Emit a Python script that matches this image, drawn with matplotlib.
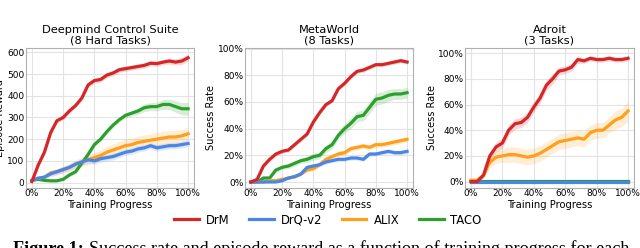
import numpy as np
import matplotlib
matplotlib.use("Agg")
import matplotlib.pyplot as plt

# training progress (%), one point every 4%
progress = list(range(0, 101, 4))

# Deepmind Control Suite (episode reward)
dmc_drm = [5, 80, 140, 230, 285, 300, 330, 355, 390, 450, 470, 475, 495, 505, 520, 525,
           530, 535, 540, 550, 548, 555, 560, 555, 560, 575]
dmc_drq = [10, 20, 25, 40, 50, 60, 70, 85, 95, 105, 100, 110, 115, 120, 130, 140,
           145, 155, 160, 170, 160, 165, 170, 170, 175, 180]
dmc_alix = [10, 20, 25, 45, 50, 60, 70, 85, 95, 105, 115, 125, 140, 150, 160, 170,
            175, 185, 190, 195, 200, 205, 210, 210, 215, 225]
dmc_taco = [10, 15, 10, 8, 8, 15, 35, 50, 90, 130, 175, 200, 235, 265, 290, 310,
            320, 330, 345, 350, 350, 360, 360, 350, 340, 340]
dmc_drm_sd = [3, 8, 10, 12, 10, 10, 10, 10, 12, 12, 12, 12, 12, 12, 12, 12,
              12, 12, 12, 12, 12, 12, 14, 14, 16, 16]
dmc_drq_sd = [5, 8, 10, 12, 14, 14, 15, 15, 15, 15, 15, 15, 15, 15, 15, 15,
              15, 15, 15, 15, 15, 15, 15, 15, 15, 15]
dmc_alix_sd = [5, 8, 10, 12, 14, 16, 18, 20, 22, 24, 25, 26, 28, 28, 30, 30,
               30, 30, 30, 30, 30, 30, 30, 30, 30, 30]
dmc_taco_sd = [3, 4, 4, 4, 4, 5, 8, 10, 10, 10, 10, 10, 12, 12, 12, 12,
               12, 15, 18, 18, 20, 22, 24, 26, 28, 30]

# MetaWorld (success rate, %)
mw_drm = [0, 2, 12, 17, 21, 23, 24, 28, 32, 36, 45, 52, 58, 61, 70, 74,
          79, 83, 84, 86, 88, 88, 89, 90, 91, 90]
mw_drq = [0, 0, 0, 0, 0, 1, 3, 4, 6, 11, 12, 13, 15, 16, 17, 17,
          18, 18, 17, 21, 21, 22, 23, 22, 22, 23]
mw_alix = [0, 0, 0, 1, 1, 2, 3, 4, 6, 9, 10, 13, 17, 19, 21, 22,
           25, 26, 27, 26, 28, 28, 29, 30, 31, 32]
mw_taco = [0, 0, 3, 3, 9, 11, 12, 14, 16, 17, 19, 20, 25, 28, 35, 40,
           44, 49, 50, 56, 62, 63, 65, 66, 66, 67]
mw_drm_sd = [0.5, 1, 1.5, 1.5, 1.5, 1.5, 1.5, 1.5, 1.5, 1.5, 1.5, 1.5, 1.5, 1.5, 1.5, 1.5,
             1.5, 1.5, 1.5, 1.5, 1.5, 1.5, 1.5, 1.5, 1.5, 1.5]
mw_drq_sd = [0.5, 0.5, 0.5, 0.5, 0.5, 1, 1, 1, 1.5, 1.5, 1.5, 1.5, 1.5, 1.5, 1.5, 1.5,
             1.5, 1.5, 1.5, 1.5, 1.5, 1.5, 1.5, 1.5, 1.5, 1.5]
mw_alix_sd = [0.5, 0.5, 0.5, 0.5, 0.5, 1, 1, 1, 1, 1.5, 1.5, 1.5, 1.5, 2, 2, 2,
              2, 2, 2, 2, 2, 2, 2, 2, 2, 2]
mw_taco_sd = [0.5, 0.5, 1, 1, 1.5, 1.5, 2, 2, 2, 2.5, 2.5, 2.5, 3, 3, 3, 3.5,
              4, 4, 4, 4.5, 4.5, 4.5, 4.5, 4, 4, 4]

# Adroit (success rate, %)
ad_drm = [0, 0, 5, 20, 27, 30, 40, 45, 46, 50, 58, 65, 75, 80, 86, 87,
          89, 95, 94, 96, 95, 95, 96, 95, 95, 96]
ad_drq = [-0.5] * 26
ad_alix = [1, 1, 5, 15, 19, 20, 21, 21, 20, 19, 20, 22, 25, 28, 31, 32,
           33, 34, 33, 38, 40, 40, 44, 48, 50, 55]
ad_taco = [0.5] * 26
ad_drm_sd = [0.5, 0.5, 2, 3, 4, 4, 4, 4, 4, 4, 4, 4, 4, 4, 3, 3,
             3, 3, 2, 2, 2, 2, 2, 2, 2, 2]
ad_drq_sd = [0.3] * 26
ad_alix_sd = [0.5, 0.5, 2, 4, 5, 5, 6, 6, 6, 6, 6, 6, 6, 6, 6, 6,
              6, 6, 6, 6, 6, 6, 6, 7, 7, 8]
ad_taco_sd = [0.5] * 26

methods = ["DrM", "DrQ-v2", "ALIX", "TACO"]
colors = ["#d62728", "#4a86e8", "#ff9f1a", "#2ca02c"]

panels = [
    ("Deepmind Control Suite\n(8 Hard Tasks)", "Episode Reward",
     [dmc_drm, dmc_drq, dmc_alix, dmc_taco],
     [dmc_drm_sd, dmc_drq_sd, dmc_alix_sd, dmc_taco_sd], (-25, 620), False),
    ("MetaWorld\n(8 Tasks)", "Success Rate",
     [mw_drm, mw_drq, mw_alix, mw_taco],
     [mw_drm_sd, mw_drq_sd, mw_alix_sd, mw_taco_sd], (-4.5, 100.5), True),
    ("Adroit\n(3 Tasks)", "Success Rate",
     [ad_drm, ad_drq, ad_alix, ad_taco],
     [ad_drm_sd, ad_drq_sd, ad_alix_sd, ad_taco_sd], (-5, 104), True),
]

# axes boxes in pixels: left, right, y-label centre
boxes = [(26, 194, 4.8), (245, 413, 216), (465, 634, 437)]
W, H = 640, 248
top_px, bot_px = 48, 188

fig = plt.figure(figsize=(W / 100, H / 100), dpi=100)
x = np.array(progress)
lines = {}
for (title, ylab, series, sds, ylim, pct), (l, r, lab_x) in zip(panels, boxes):
    ax = fig.add_axes([l / W, 1 - bot_px / H, (r - l) / W, (bot_px - top_px) / H])
    # back to front: TACO, ALIX, DrQ-v2, DrM
    for i in [3, 2, 1, 0]:
        y = np.array(series[i])
        sd = np.array(sds[i])
        ax.fill_between(x, y - sd, y + sd, color=colors[i], alpha=0.18, lw=0)
        ln, = ax.plot(x, y, color=colors[i], lw=2.3)
        lines[methods[i]] = ln
    ax.set_xlim(-3.8, 103.8)
    ax.set_ylim(*ylim)
    ax.set_xticks([0, 20, 40, 60, 80, 100])
    ax.set_xticklabels(["0%", "20%", "40%", "60%", "80%", "100%"])
    if pct:
        ax.set_yticks([0, 20, 40, 60, 80, 100])
        ax.set_yticklabels(["0%", "20%", "40%", "60%", "80%", "100%"])
    else:
        ax.set_yticks([0, 100, 200, 300, 400, 500, 600])
    ax.tick_params(labelsize=6.5, length=0, pad=1)
    ax.grid(True, color="#e3e3e3", lw=0.8)
    ax.set_axisbelow(True)
    for s in ax.spines.values():
        s.set_color("#b0b0b0")
        s.set_linewidth(0.8)
    ax.set_title(title, fontsize=8.2, pad=3, linespacing=1.1)
    ax.set_ylabel(ylab, fontsize=7)
    ax.yaxis.set_label_coords((lab_x - l) / (r - l), 0.5)
    ax.set_xlabel("Training Progress", fontsize=7.2, labelpad=1)

fig.legend([lines[m] for m in methods], methods, loc="center",
           bbox_to_anchor=(328 / W, 1 - 220 / H), ncol=4, fontsize=8.4,
           frameon=False, handlelength=2.1, columnspacing=1.7,
           handletextpad=0.6)

# caption, cut off at the bottom as in the source
cap_y = 1 - 254 / H
cap_size = 12
t1 = fig.text(13 / W, cap_y, "Figure 1:", fontsize=cap_size, family="Liberation Serif",
              weight="bold", va="baseline", ha="left")
t2 = fig.text(0, cap_y,
              "Success rate and episode reward as a function of training progress for each",
              fontsize=cap_size, family="Liberation Serif", va="baseline", ha="left")
fig.canvas.draw()
b1 = t1.get_window_extent()
t2.set_x((b1.x1 + 5) / W)
fig.canvas.draw()
b2 = t2.get_window_extent()
# stretch the font so the line ends where the source's does
scale = (630 - 13) / (b2.x1 - 13)
t1.set_fontsize(cap_size * scale)
t2.set_fontsize(cap_size * scale)
fig.canvas.draw()
b1 = t1.get_window_extent()
t2.set_x((b1.x1 + 5) / W)

fig.savefig("out.png", dpi=100)
